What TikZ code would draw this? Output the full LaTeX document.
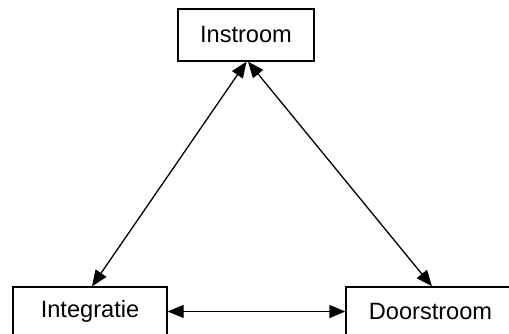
\documentclass[tikz,border=0pt]{standalone}
\usepackage{fontspec}
\setmainfont{Liberation Sans}
\usetikzlibrary{arrows.meta}
\begin{document}
\begin{tikzpicture}[x=1pt,y=1pt,
  box/.style={draw,line width=1.3pt,inner sep=0pt,font=\fontsize{23.6}{26}\selectfont},
  link/.style={line width=1.3pt,{Triangle[length=16pt,width=13pt]}-{Triangle[length=16pt,width=13pt]}}]
\useasboundingbox (0,0) rectangle (509,334);
\clip (0,0) rectangle (509,334);
\node[box,minimum width=136pt,minimum height=52pt] (ins) at (246,299) {Instroom};
\node[box,minimum width=154pt,minimum height=49pt] (int) at (90,22.5) {Integratie};
\node[box,minimum width=169pt,minimum height=49pt] (doo) at (430.5,22.5) {Doorstroom};
\coordinate (insL) at ([xshift=0.5pt]ins.south);
\coordinate (insR) at ([xshift=2pt]ins.south);
\draw[link] (insL) -- ([xshift=2pt]int.north);
\draw[link] (insR) -- ([xshift=1.5pt]doo.north);
\draw[link] (int.east) -- (doo.west);
\end{tikzpicture}
\end{document}
